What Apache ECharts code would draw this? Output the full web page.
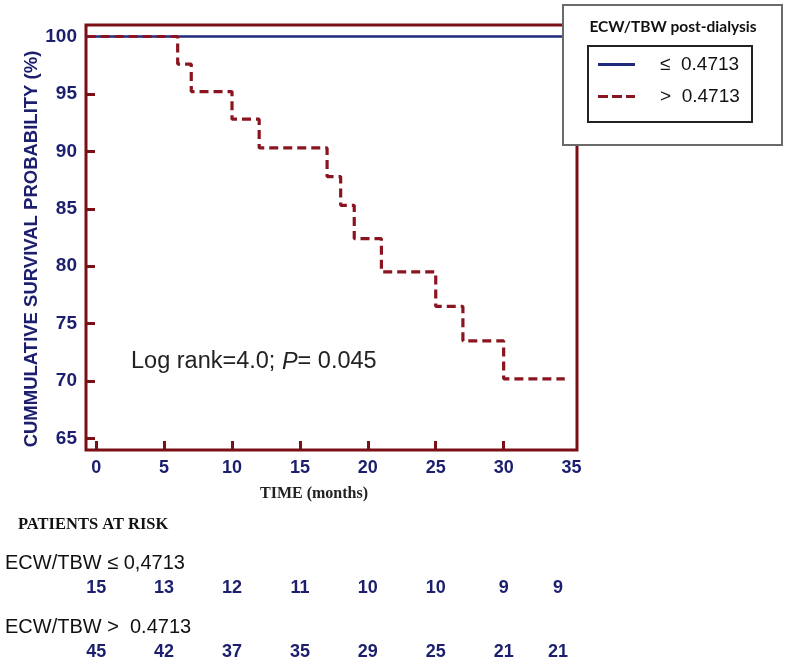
<!DOCTYPE html>
<html>
<head>
<meta charset="utf-8">
<script src="https://cdn.jsdelivr.net/npm/echarts@6/dist/echarts.min.js"></script>
<style>
  html, body { margin: 0; padding: 0; background: #fff; }
  #chart { width: 788px; height: 664px; }
</style>
</head>
<body>
<div id="chart"></div>
<script>
// survival curves (time in months, probability in %)
const lowTimes = [-0.7, 35.4];
const lowValues = [100, 100];
const highTimes = [-0.7, 6, 7, 10, 12, 17, 18, 19, 21, 25, 27, 30, 34.5];
const highValues = [100, 97.6, 95.2, 92.8, 90.3, 87.8, 85.3, 82.4, 79.5, 76.5, 73.5, 70.2, 70.2];

// patients at risk
const riskTimes = [0, 5, 10, 15, 20, 25, 30, 34];
const riskLow = [15, 13, 12, 11, 10, 10, 9, 9];
const riskHigh = [45, 42, 37, 35, 29, 25, 21, 21];
const riskRows = ['low', 'high'];

const xTicks = [0, 5, 10, 15, 20, 25, 30, 35];
const yTicks = [65, 70, 75, 80, 85, 90, 95, 100];

const maroon = '#7a1016';
const navy = '#1b1f6e';

const chart = echarts.init(document.getElementById('chart'));

const riskData = [];
riskTimes.forEach((t, i) => {
  riskData.push([t, 'low', riskLow[i]]);
  riskData.push([t, 'high', riskHigh[i]]);
});

chart.setOption({
  animation: false,
  backgroundColor: '#fff',
  grid: [
    { left: 86, right: 211, top: 25, bottom: 214, show: true, borderColor: maroon, borderWidth: 3 },
    { left: 86, right: 211, top: 588, height: 64 }
  ],
  xAxis: [
    {
      gridIndex: 0, type: 'value', min: -0.75, max: 35.4,
      axisLine: { show: false, onZero: false },
      splitLine: { show: false },
      axisTick: { show: true, inside: true, length: 9, lineStyle: { color: maroon, width: 3 }, customValues: xTicks.slice(0, 7) },
      axisLabel: { customValues: xTicks, color: navy, fontWeight: 'bold', fontSize: 18, margin: 9, fontFamily: 'Liberation Sans' }
    },
    { gridIndex: 1, type: 'value', min: -0.75, max: 35.4, show: false }
  ],
  yAxis: [
    {
      gridIndex: 0, type: 'value', min: 64, max: 101,
      axisLine: { show: false, onZero: false },
      splitLine: { show: false },
      axisTick: { show: true, inside: true, length: 9, lineStyle: { color: maroon, width: 3 }, customValues: yTicks },
      axisLabel: { customValues: yTicks, color: navy, fontWeight: 'bold', fontSize: 19, margin: 9, fontFamily: 'Liberation Sans' }
    },
    { gridIndex: 1, type: 'category', data: riskRows, inverse: true, boundaryGap: false, show: false }
  ],
  legend: {
    orient: 'vertical',
    left: 593, top: 50,
    itemWidth: 37, itemHeight: 3, itemGap: 13,
    z: 20,
    textStyle: { fontSize: 19, color: '#111', fontFamily: 'Liberation Sans', padding: [0, 0, 0, 20] },
    data: [
      { name: '≤  0.4713', icon: 'path://M0,0H37V3H0Z', itemStyle: { color: '#1f2a7c' } },
      { name: '>  0.4713', icon: 'path://M0,0H10V3H0ZM14,0H24V3H14ZM28,0H37V3H28Z', itemStyle: { color: '#8a1520' } }
    ]
  },
  series: [
    {
      name: '≤  0.4713', type: 'line', step: 'end', symbol: 'none',
      xAxisIndex: 0, yAxisIndex: 0,
      lineStyle: { color: '#1f2a7c', width: 2.5 },
      itemStyle: { color: '#1f2a7c' },
      data: lowTimes.map((t, i) => [t, lowValues[i]])
    },
    {
      name: '>  0.4713', type: 'line', step: 'end', symbol: 'none',
      xAxisIndex: 0, yAxisIndex: 0,
      lineStyle: { color: '#8a1520', width: 3.2, type: [9, 5] },
      itemStyle: { color: '#8a1520' },
      data: highTimes.map((t, i) => [t, highValues[i]])
    },
    {
      type: 'scatter', xAxisIndex: 1, yAxisIndex: 1, symbolSize: 0,
      itemStyle: { opacity: 1 },
      label: {
        show: true, position: 'inside', color: navy, fontWeight: 'bold', fontSize: 18,
        fontFamily: 'Liberation Sans', formatter: p => p.value[2]
      },
      data: riskData
    }
  ],
  graphic: [
    { type: 'rect', z: 10, shape: { x: 563, y: 5, width: 219, height: 140 }, style: { fill: '#fff', stroke: '#6a6a6a', lineWidth: 2 } },
    { type: 'rect', z: 11, shape: { x: 588, y: 46, width: 164, height: 76 }, style: { fill: 'none', stroke: '#222', lineWidth: 2 } },
    { type: 'text', z: 11, x: 673, y: 27, style: { text: 'ECW/TBW post-dialysis', font: 'bold 15.5px Lato', fill: '#111', textAlign: 'center', textVerticalAlign: 'middle' } },
    { type: 'text', z: 11, x: 32, y: 249, rotation: Math.PI / 2, style: { text: 'CUMMULATIVE SURVIVAL PROBABILITY (%)', font: 'bold 18.5px "Liberation Sans"', fill: navy, textAlign: 'center', textVerticalAlign: 'middle' } },
    { type: 'text', z: 11, x: 314, y: 494, style: { text: 'TIME (months)', font: 'bold 16px "Liberation Serif"', fill: '#222', textAlign: 'center', textVerticalAlign: 'middle' } },
    { type: 'text', z: 11, x: 131, y: 362, style: { text: 'Log rank=4.0; {i|P}= 0.045', font: '23.5px "Liberation Sans"', fill: '#222', textVerticalAlign: 'middle', rich: { i: { fontStyle: 'italic', fontSize: 23.5, fontFamily: 'Liberation Sans', fill: '#222' } } } },
    { type: 'text', z: 11, x: 18, y: 525, style: { text: 'PATIENTS AT RISK', font: 'bold 16.5px "Liberation Serif"', fill: '#111', textVerticalAlign: 'middle' } },
    { type: 'text', z: 11, x: 5, y: 563, style: { text: 'ECW/TBW ≤ 0,4713', font: '20px "Liberation Sans"', fill: '#111', textVerticalAlign: 'middle' } },
    { type: 'text', z: 11, x: 5, y: 627, style: { text: 'ECW/TBW >  0.4713', font: '20px "Liberation Sans"', fill: '#111', textVerticalAlign: 'middle' } }
  ]
});
</script>
</body>
</html>
